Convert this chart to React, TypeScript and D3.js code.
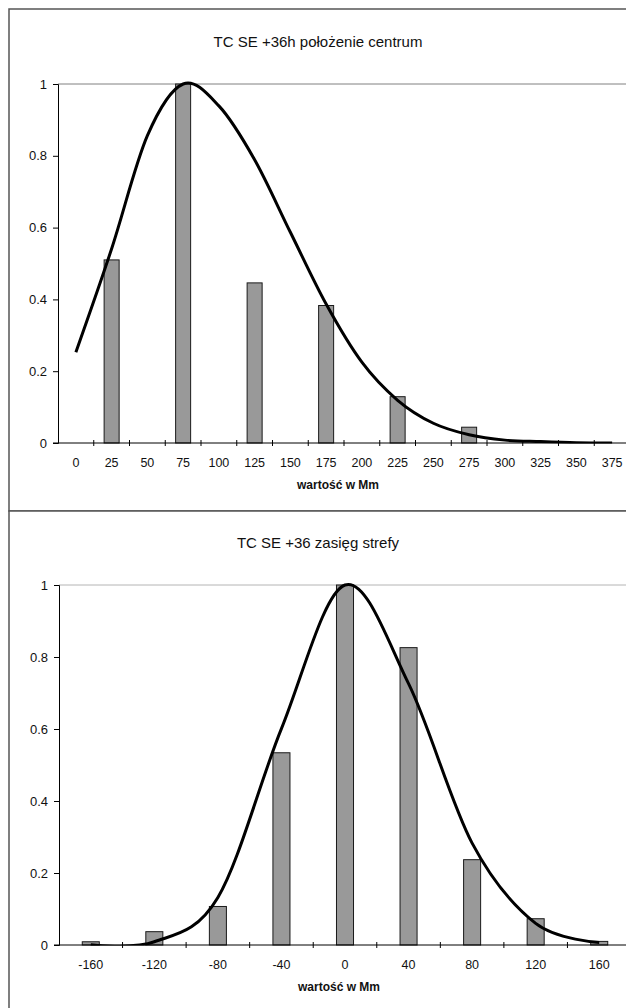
import { useRef, useEffect } from 'react';
import * as d3 from 'd3';

// top chart: położenie centrum
const topCats = [0, 25, 50, 75, 100, 125, 150, 175, 200, 225, 250, 275, 300, 325, 350, 375];
const topBars = [0, 0.51, 0, 1.0, 0, 0.446, 0, 0.383, 0, 0.129, 0, 0.044, 0, 0, 0, 0];
const topCurve = [0.253, 0.541, 0.856, 1.0, 0.939, 0.789, 0.587, 0.387, 0.225, 0.119, 0.055, 0.023, 0.008, 0.004, 0.001, 0];

// bottom chart: zasięg strefy
const botCats = [-160, -120, -80, -40, 0, 40, 80, 120, 160];
const botBars = [0.009, 0.037, 0.107, 0.534, 1.0, 0.826, 0.237, 0.073, 0.01];
const botCurve = [0.001, 0.009, 0.132, 0.601, 1.0, 0.726, 0.283, 0.06, 0.007];

const yTicks = [0, 0.2, 0.4, 0.6, 0.8, 1];

const FONT = "'Liberation Sans', Arial, sans-serif";

function drawChart(svg, opts) {
  const { id, cats, bars, curve, title, frameTop, frameH, left, right, top, bottom, barPad, gridColor } = opts;

  const g = svg.append('g');

  // frame
  g.append('rect')
    .attr('x', 9).attr('y', frameTop)
    .attr('width', 720).attr('height', frameH)
    .attr('fill', '#fff')
    .attr('stroke', '#555')
    .attr('stroke-width', 1.5);

  const x = d3.scaleBand()
    .domain(cats.map(String))
    .range([left, right])
    .paddingInner(barPad)
    .paddingOuter(barPad / 2);

  const edge = d3.scaleLinear().domain([0, cats.length]).range([left, right]);

  const y = d3.scaleLinear().domain([0, 1]).range([bottom, top]);

  // title
  g.append('text')
    .attr('x', 318).attr('y', top - 37)
    .attr('text-anchor', 'middle')
    .attr('font-family', FONT)
    .attr('font-size', 15)
    .attr('fill', '#111')
    .text(title);

  // top line at 1
  g.append('line')
    .attr('x1', left).attr('x2', 720)
    .attr('y1', y(1)).attr('y2', y(1))
    .attr('stroke', gridColor);

  // bars
  g.selectAll('rect.bar')
    .data(bars.map((v, i) => ({ c: String(cats[i]), v })).filter(d => d.v > 0))
    .enter()
    .append('rect')
    .attr('class', 'bar')
    .attr('x', d => x(d.c))
    .attr('y', d => y(d.v))
    .attr('width', x.bandwidth())
    .attr('height', d => y(0) - y(d.v))
    .attr('fill', '#999999')
    .attr('stroke', '#1a1a1a')
    .attr('stroke-width', 1);

  // y axis
  const yAxis = g.append('g')
    .attr('transform', `translate(${left},0)`)
    .call(d3.axisLeft(y).tickValues(yTicks).tickSize(5).tickPadding(6).tickFormat(d => String(d)));
  yAxis.select('.domain').attr('stroke', '#000');
  yAxis.selectAll('text').attr('font-family', FONT).attr('font-size', 13).attr('fill', '#111');

  // x axis line + ticks between categories
  g.append('line')
    .attr('x1', left - 5).attr('x2', 720)
    .attr('y1', bottom).attr('y2', bottom)
    .attr('stroke', '#000');
  g.selectAll('line.xt')
    .data(d3.range(1, cats.length + 1))
    .enter()
    .append('line')
    .attr('class', 'xt')
    .attr('x1', d => edge(d)).attr('x2', d => edge(d))
    .attr('y1', bottom - 3).attr('y2', bottom + 3)
    .attr('stroke', '#000');
  g.selectAll('text.xl')
    .data(cats)
    .enter()
    .append('text')
    .attr('class', 'xl')
    .attr('x', d => x(String(d)) + x.bandwidth() / 2)
    .attr('y', bottom + 24)
    .attr('text-anchor', 'middle')
    .attr('font-family', FONT)
    .attr('font-size', 12.5)
    .attr('fill', '#111')
    .text(d => d);

  g.append('text')
    .attr('x', (left + right) / 2 - 6).attr('y', bottom + 46)
    .attr('text-anchor', 'middle')
    .attr('font-family', FONT)
    .attr('font-size', 12)
    .attr('font-weight', 'bold')
    .attr('fill', '#111')
    .text('wartość w Mm');

  // smoothed line, clipped to plot area
  g.append('clipPath').attr('id', id)
    .append('rect')
    .attr('x', left).attr('y', top - 4)
    .attr('width', right - left).attr('height', bottom - top + 4.5);

  const line = d3.line()
    .x((d, i) => x(String(cats[i])) + x.bandwidth() / 2)
    .y(d => y(d))
    .curve(d3.curveCardinal.tension(0));

  g.append('path')
    .datum(curve)
    .attr('clip-path', `url(#${id})`)
    .attr('d', line)
    .attr('fill', 'none')
    .attr('stroke', '#000')
    .attr('stroke-width', 3)
    .attr('stroke-linejoin', 'round');
}

export default function App() {
  const svgRef = useRef(null);

  useEffect(() => {
    const svg = d3.select(svgRef.current);
    svg.selectAll('*').remove();

    drawChart(svg, {
      id: 'clipTop', cats: topCats, bars: topBars, curve: topCurve,
      title: 'TC SE +36h położenie centrum',
      frameTop: 9, frameH: 502,
      left: 58, right: 630, top: 84, bottom: 443,
      barPad: 0.58, gridColor: '#808080'
    });

    drawChart(svg, {
      id: 'clipBot', cats: botCats, bars: botBars, curve: botCurve,
      title: 'TC SE +36 zasięg strefy',
      frameTop: 511, frameH: 600,
      left: 59, right: 631, top: 585, bottom: 945,
      barPad: 0.732, gridColor: '#b4b4b4'
    });
  }, []);

  return (
    <>
      <style>{'body{margin:0;overflow:hidden;background:#fff}'}</style>
      <svg ref={svgRef} width={626} height={1008} style={{ display: 'block' }} />
    </>
  );
}
